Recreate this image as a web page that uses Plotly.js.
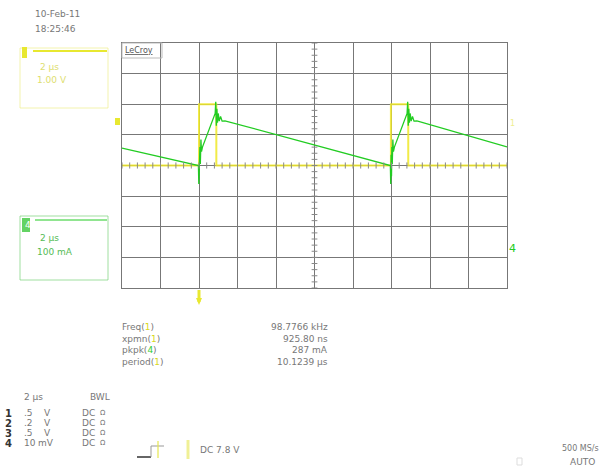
<!DOCTYPE html>
<html>
<head>
<meta charset="utf-8">
<script src="https://cdn.plot.ly/plotly-3.0.1.min.js"></script>
<style>html,body{margin:0;padding:0;background:#fff;}#chart{width:603px;height:469px;}</style>
</head>
<body>
<div id="chart"></div>
<script>
// ---- data (time in µs, amplitude in screen divisions) ----
const ch1Time = [-10, -6.0, -6.0, -5.1, -5.1, 3.97, 3.97, 4.87, 4.87, 10];
const ch1Div  = [0, 0, 2, 2, 0, 0, 2, 2, 0, 0];

const ch4Time = [-10, -6.03, -6.01, -5.99, -5.97, -5.95, -5.93, -5.9, -5.87, -5.82,
                 -5.16, -5.13, -5.1, -5.07, -5.04, -5.0, -4.95, -4.88, -4.8, -4.65,
                 3.94, 3.96, 3.98, 4.0, 4.02, 4.04, 4.07, 4.1, 4.15,
                 4.81, 4.84, 4.87, 4.9, 4.93, 4.97, 5.02, 5.09, 5.17, 5.32, 10];
const ch4Div  = [0.57, 0.0, -0.6, 0.35, -0.35, 0.6, 0.05, 0.85, 0.45, 0.6,
                 1.7, 2.08, 1.3, 1.85, 1.4, 1.7, 1.45, 1.6, 1.45, 1.46,
                 0.0, -0.6, 0.35, -0.35, 0.6, 0.05, 0.85, 0.45, 0.6,
                 1.7, 2.08, 1.3, 1.85, 1.4, 1.7, 1.45, 1.6, 1.45, 1.46, 0.61];

const measNames  = ['Freq', 'xpmn', 'pkpk', 'period'];
const measChan   = ['1', '1', '4', '1'];
const measValues = ['98.7766 kHz', '925.80 ns', '287 mA', '10.1239 µs'];

const chanNums  = ['1', '2', '3', '4'];
const chanScale = ['.5', '.2', '.5', '10'];
const chanUnit  = ['V', 'V', 'V', 'mV'];

// ---- layout helpers ----
const W = 603, H = 469;
const px = x => x / W;
const py = y => 1 - y / H;
const YEL = '#e8e830', GRN = '#22cc22', TXT = '#777';
const FONT = 'DejaVu Sans';

const annotations = [];
function txt(x, y, s, o) {
  o = o || {};
  annotations.push({
    xref: 'paper', yref: 'paper', x: px(x), y: py(y), text: s, showarrow: false,
    xanchor: o.anchor || 'left', yanchor: 'middle',
    font: {family: o.family || FONT, size: o.size || 9, color: o.color || TXT}
  });
}

const shapes = [];
function pline(x0, y0, x1, y1, color, width) {
  shapes.push({type: 'line', xref: 'paper', yref: 'paper', x0: px(x0), y0: py(y0), x1: px(x1), y1: py(y1),
               line: {color: color, width: width || 1}});
}
function prect(x0, y0, x1, y1, color, fill, width) {
  shapes.push({type: 'rect', xref: 'paper', yref: 'paper', x0: px(x0), y0: py(y0), x1: px(x1), y1: py(y1),
               line: {color: color, width: width === undefined ? 1 : width}, fillcolor: fill || 'rgba(0,0,0,0)'});
}

// centre-line graticule ticks
for (let i = -25; i <= 25; i++) {
  const t = i * 0.4;
  shapes.push({type: 'line', xref: 'x', yref: 'y', x0: t, x1: t, y0: -0.1, y1: 0.1, line: {color: '#888', width: 1}});
}
for (let i = -20; i <= 20; i++) {
  const v = i * 0.2;
  shapes.push({type: 'line', xref: 'x', yref: 'y', x0: -0.15, x1: 0.15, y0: v, y1: v, line: {color: '#888', width: 1}});
}

// text: date / time
txt(33, 14, '10-Feb-11');
txt(33, 29, '18:25:46');

// channel 1 box
prect(20, 48, 108, 108, 'rgba(235,235,120,0.6)');
prect(22, 47, 27, 58, YEL, YEL, 0);
pline(33, 51, 107, 51, YEL, 2);
txt(38, 67, '2 µs', {color: '#dede70'});
txt(35, 80, '1.00 V', {color: '#dede70'});

// channel 4 box
prect(20, 216, 108, 280, 'rgba(120,210,120,0.7)');
prect(22, 218, 30, 232, GRN, 'rgba(60,200,60,0.8)', 0);
txt(23, 225, '4', {color: '#fff', size: 9});
pline(35, 220, 107, 220, GRN, 1);
txt(38, 238, '2 µs', {color: '#55bb55'});
txt(35, 252, '100 mA', {color: '#55bb55'});

// LeCroy tag
txt(123, 50, '<u>LeCroy</u>', {color: '#555', size: 8});
prect(122, 43, 162, 58, '#bbb', 'rgba(0,0,0,0)', 1);

// trace markers
prect(115, 118, 120, 125, YEL, YEL, 0);
txt(508, 123, '1', {color: '#eeee90', size: 8});
txt(507, 248, '4', {color: GRN, size: 11});
pline(199, 290, 199, 302, YEL, 3);
shapes.push({type: 'path', xref: 'paper', yref: 'paper',
  path: 'M ' + px(196) + ' ' + py(298) + ' L ' + px(202) + ' ' + py(298) + ' L ' + px(199) + ' ' + py(305) + ' Z',
  fillcolor: YEL, line: {width: 0}});

// measurements
for (let i = 0; i < measNames.length; i++) {
  const y = 327 + i * 11.5;
  const c = measChan[i] === '4' ? '#33cc33' : '#d8d820';
  txt(120, y, measNames[i] + '(<span style="color:' + c + '">' + measChan[i] + '</span>)');
  txt(330, y, measValues[i], {anchor: 'right'});
}

// bottom block
txt(22, 397, '2 µs');
txt(88, 397, 'BWL');
for (let i = 0; i < chanNums.length; i++) {
  const y = 413 + i * 10;
  txt(3, y, '<b>' + chanNums[i] + '</b>', {color: '#333', size: 10});
  txt(22, y, chanScale[i]);
  txt(chanUnit[i] === 'mV' ? 36 : 42, y, chanUnit[i]);
  txt(80, y, 'DC');
  txt(98, y, 'Ω', {size: 7});
}
// trigger icon
pline(137, 457, 151, 457, '#666', 2);
pline(151, 457, 151, 446, '#999', 1);
pline(151, 446, 164, 446, '#999', 1);
pline(158, 441, 158, 458, 'rgba(230,230,80,0.6)', 2);
pline(188, 440, 188, 459, 'rgba(230,230,80,0.6)', 3);
txt(198, 450, 'DC 7.8 V');
txt(601, 448, '500 MS/s', {anchor: 'right', size: 8});
prect(517, 458, 522, 465, '#ddd', 'rgba(0,0,0,0)', 1);
txt(568, 462, 'AUTO');

const traces = [
  {x: ch1Time, y: ch1Div, type: 'scatter', mode: 'lines', name: 'C1',
   line: {color: 'rgba(238,232,40,0.85)', width: 2}, hoverinfo: 'skip'},
  {x: ch4Time, y: ch4Div, type: 'scatter', mode: 'lines', name: 'C4',
   line: {color: GRN, width: 1.3}, hoverinfo: 'skip'}
];

const layout = {
  width: W, height: H, margin: {l: 0, r: 0, t: 0, b: 0},
  paper_bgcolor: '#fff', plot_bgcolor: '#fff', showlegend: false,
  xaxis: {domain: [px(122), px(507)], range: [-10, 10], dtick: 2, showgrid: true, gridcolor: '#777', gridwidth: 1,
          zeroline: false, showline: true, mirror: true, linecolor: '#777', showticklabels: false, ticks: '', fixedrange: true},
  yaxis: {domain: [py(288), py(43)], range: [-4, 4], dtick: 1, showgrid: true, gridcolor: '#777', gridwidth: 1,
          zeroline: false, showline: true, mirror: true, linecolor: '#777', showticklabels: false, ticks: '', fixedrange: true},
  shapes: shapes, annotations: annotations
};

Plotly.newPlot('chart', traces, layout, {displayModeBar: false, staticPlot: true});
</script>
</body>
</html>
